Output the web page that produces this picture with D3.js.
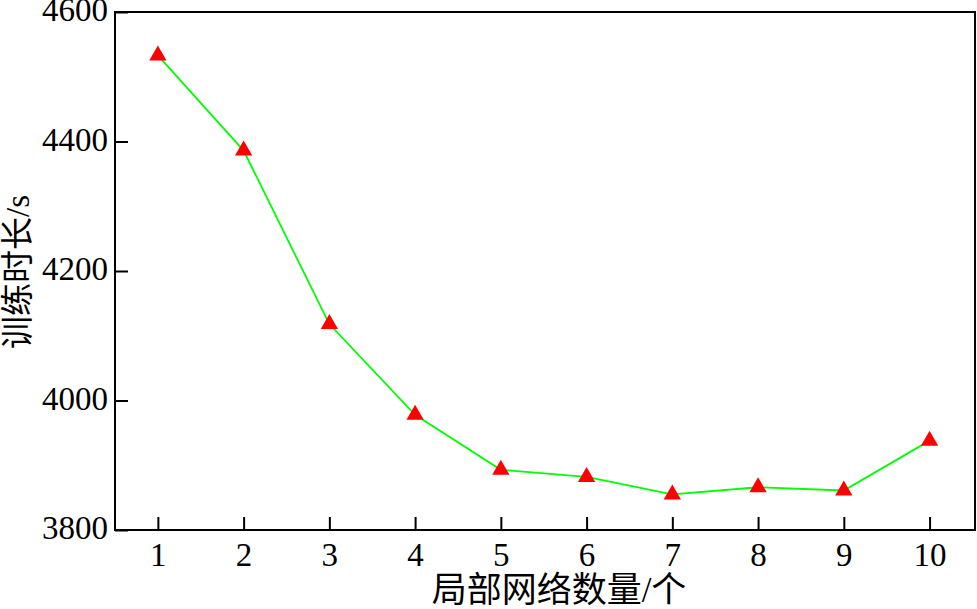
<!DOCTYPE html>
<html>
<head>
<meta charset="utf-8">
<script src="https://cdn.jsdelivr.net/npm/d3@7"></script>
<style>
  html, body { margin: 0; padding: 0; background: #fff; }
  svg { display: block; }
  .tick text { font-family: "Liberation Serif", "Times New Roman", serif; font-size: 33px; fill: #000; }
  .label { font-family: "Liberation Serif", "Noto Sans CJK SC", serif; fill: #000; }
</style>
</head>
<body>
<div id="chart"></div>
<script>
// 局部网络数量与训练时长
var counts = [1, 2, 3, 4, 5, 6, 7, 8, 9, 10];
var trainTimes = [4533, 4386, 4118, 3978, 3893, 3882, 3855, 3866, 3861, 3938];
var yTicks = [3800, 4000, 4200, 4400, 4600];
var xLabel = "局部网络数量/个";
var yLabel = "训练时长/s";

var width = 977, height = 609;
var margin = { left: 115, right: 2, top: 12, bottom: 79 };
var innerW = width - margin.left - margin.right,
  innerH = height - margin.top - margin.bottom;

var svg = d3.select("#chart").append("svg")
  .attr("width", width)
  .attr("height", height);

var g = svg.append("g")
  .attr("transform", "translate(" + margin.left + "," + margin.top + ")");

// 比例尺
var x = d3.scaleLinear()
  .domain([0.5, 10.53])
  .range([0, innerW]);

var y = d3.scaleLinear()
  .domain([3800, 4600])
  .range([innerH, 0]);

// x轴
var xAxis = g.append("g")
  .attr("transform", "translate(0," + innerH + ")")
  .call(d3.axisBottom(x).tickValues(counts).tickFormat(d3.format("d")).tickSize(-13).tickPadding(0));
xAxis.select(".domain").remove();
xAxis.selectAll(".tick line").attr("stroke", "#000").attr("stroke-width", 2);
xAxis.selectAll(".tick text").attr("y", 36).attr("dy", 0);

// y轴
var yAxis = g.append("g")
  .call(d3.axisLeft(y).tickValues(yTicks).tickFormat(d3.format("d")).tickSize(-13).tickPadding(7));
yAxis.select(".domain").remove();
yAxis.selectAll(".tick line").attr("stroke", "#000").attr("stroke-width", 2);
yAxis.selectAll(".tick text").attr("dy", 0).attr("y", 8.5);

// 边框
g.append("rect")
  .attr("x", 0)
  .attr("y", 0)
  .attr("width", innerW)
  .attr("height", innerH)
  .attr("fill", "none")
  .attr("stroke", "#000")
  .attr("stroke-width", 2);

// 折线
var line = d3.line()
  .x(function(d, i) { return x(counts[i]); })
  .y(function(d) { return y(d); });

g.append("path")
  .datum(trainTimes)
  .attr("d", line)
  .attr("fill", "none")
  .attr("stroke", "#00ff00")
  .attr("stroke-width", 1.8);

// 三角形标记
g.selectAll(".marker")
  .data(trainTimes)
  .enter()
  .append("path")
  .attr("class", "marker")
  .attr("d", d3.symbol().type(d3.symbolTriangle).size(130))
  .attr("transform", function(d, i) {
    return "translate(" + x(counts[i]) + "," + y(d) + ")";
  })
  .attr("fill", "#ff0000");

// 坐标轴标题
svg.append("text")
  .attr("class", "label")
  .attr("x", 559)
  .attr("y", 602)
  .attr("text-anchor", "middle")
  .attr("font-size", 35)
  .text(xLabel);

svg.append("text")
  .attr("class", "label")
  .attr("transform", "translate(18," + 272 + ") rotate(-90)")
  .attr("text-anchor", "middle")
  .attr("dominant-baseline", "central")
  .attr("font-size", 33)
  .text(yLabel);
</script>
</body>
</html>
